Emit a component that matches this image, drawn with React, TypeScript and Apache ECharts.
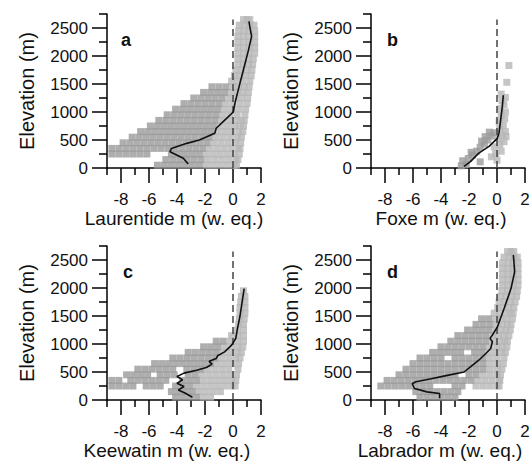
import React, { useEffect, useRef } from 'react';
import * as echarts from 'echarts';

type Rows = [number, number[]][];

// Tick values
const xMajorTicks = [-8, -6, -4, -2, 0, 2];
const xMinorTicks = [-9, -7, -5, -3, -1, 1];
const yMajorTicks = [0, 500, 1000, 1500, 2000, 2500];
const yMinorTicks = [250, 750, 1250, 1750, 2250, 2750];

const regionNames = ['Laurentide', 'Foxe', 'Keewatin', 'Labrador'];
const panelLetters = ['a', 'b', 'c', 'd'];

// ---- a: Laurentide (rows: elevation, mass balance values) ----
const laurentideDark: Rows = [
  [50, [-5.4, -4.9, -4.4, -3.9, -3.4, -2.9, -2.4]],
  [150, [-4.8, -4.3, -3.8, -3.3, -2.8, -2.3]],
  [250, [-8.65, -8.15, -7.65, -7.15, -6.65, -6.15, -4.4, -3.9, -3.4, -2.9, -2.4]],
  [350, [-8.65, -8.15, -7.65, -7.15, -6.65, -6.15, -5.65, -5.15, -4.65, -4.15, -3.65, -3.15, -2.65, -2.15]],
  [450, [-7.85, -7.35, -6.85, -6.35, -5.85, -5.35, -4.85, -4.35, -3.85, -3.35, -2.85, -2.35, -1.85]],
  [550, [-7.2, -6.7, -6.2, -5.7, -5.2, -4.7, -4.2, -3.7, -3.2, -2.7, -2.2, -1.7]],
  [650, [-6.6, -6.1, -5.6, -5.1, -4.6, -4.1, -3.6, -3.1, -2.6, -2.1, -1.6]],
  [750, [-5.9, -5.4, -4.9, -4.4, -3.9, -3.4, -2.9, -2.4, -1.9, -1.4]],
  [850, [-5.3, -4.8, -4.3, -3.8, -3.3, -2.8, -2.3, -1.8, -1.3]],
  [950, [-4.7, -4.2, -3.7, -3.2, -2.7, -2.2, -1.7, -1.2]],
  [1050, [-4.1, -3.6, -3.1, -2.6, -2.1, -1.6, -1.1]],
  [1150, [-3.5, -3.0, -2.5, -2.0, -1.5, -1.0]],
  [1250, [-2.8, -2.3, -1.8, -1.3, -0.8]],
  [1350, [-2.1, -1.6, -1.1, -0.6]],
  [1450, [-1.5, -1.0, -0.5]],
];
const laurentideLight: Rows = [
  [50, [-1.9, -1.4, -0.9, -0.4, 0.1, 0.25]],
  [150, [-1.8, -1.3, -0.8, -0.3, 0.2, 0.35]],
  [250, [-1.9, -1.4, -0.9, -0.4, 0.1, 0.45]],
  [350, [-1.65, -1.15, -0.65, -0.15, 0.35, 0.5]],
  [450, [-1.35, -0.85, -0.35, 0.15, 0.55]],
  [550, [-1.2, -0.7, -0.2, 0.3, 0.6]],
  [650, [-1.1, -0.6, -0.1, 0.4, 0.7]],
  [750, [-0.9, -0.4, 0.1, 0.5, 0.75]],
  [850, [-0.8, -0.3, 0.2, 0.6, 0.8]],
  [950, [-0.7, -0.2, 0.3, 0.85]],
  [1050, [-0.6, -0.1, 0.4, 0.9]],
  [1150, [-0.5, 0.0, 0.5, 1.0]],
  [1250, [-0.3, 0.2, 0.6, 1.05]],
  [1350, [-0.1, 0.3, 0.7, 1.1]],
  [1450, [0.0, 0.4, 0.8, 1.15]],
  [1550, [-0.1, 0.3, 0.7, 1.2]],
  [1650, [0.1, 0.5, 0.9, 1.3]],
  [1750, [0.2, 0.6, 1.0, 1.35]],
  [1850, [0.35, 0.75, 1.1, 1.4]],
  [1950, [0.35, 0.75, 1.1, 1.45]],
  [2050, [0.35, 0.75, 1.15, 1.55]],
  [2150, [0.35, 0.75, 1.15, 1.55]],
  [2250, [0.35, 0.75, 1.15, 1.55]],
  [2350, [0.35, 0.75, 1.15, 1.55]],
  [2450, [0.4, 0.8, 1.15, 1.55]],
  [2550, [0.45, 0.85, 1.2, 1.5]],
  [2650, [0.75, 1.0, 1.2]],
];
const laurentideMean: [number, number][] = [
  [-3.2, 70], [-3.55, 175], [-4.5, 290], [-4.4, 350], [-3.3, 440], [-2.4, 500], [-1.3, 620],
  [-1.2, 710], [-0.57, 860], [0.02, 1000], [0.14, 1160], [0.38, 1400], [0.74, 1750],
  [1.1, 2100], [1.33, 2350], [1.2, 2525], [1.14, 2620],
];

// ---- b: Foxe (individual points) ----
const foxeDark: [number, number][] = [
  [-2.55, 40], [-2.2, 60], [-2.45, 130], [-2.05, 170], [-1.75, 230], [-1.45, 300], [-1.85, 280],
  [-1.2, 370], [-0.9, 430], [-1.1, 480], [-0.65, 500], [-0.85, 560], [-0.4, 570], [-0.2, 630],
  [-1.2, 110], [-0.55, 640],
];
const foxeLight: [number, number][] = [
  [-0.4, 200], [-0.1, 260], [0.3, 300], [-0.2, 380], [0.2, 420], [0.5, 470], [0.1, 530],
  [0.4, 590], [0.6, 650], [0.2, 700], [0.45, 760], [0.15, 820], [0.55, 880], [0.3, 940],
  [0.6, 1000], [0.25, 1060], [0.5, 1130], [0.35, 1200], [0.6, 1260], [0.3, 1320],
  [0.7, 1530], [0.85, 1830], [0.65, 560], [0.0, 140],
];
const foxeMean: [number, number][] = [
  [-2.35, 30], [-1.9, 115], [-1.3, 265], [-0.57, 385], [0.02, 530], [0.14, 620],
  [0.26, 860], [0.38, 1100], [0.45, 1300],
];

// ---- c: Keewatin ----
const keewatinDark: Rows = [
  [50, [-4.1, -3.6, -3.1, -2.6]],
  [150, [-4.4, -3.9, -3.4, -2.9]],
  [250, [-8.65, -8.15, -7.65, -7.15, -6.2, -5.7, -5.2, -4.1, -3.6, -3.1]],
  [350, [-8.65, -8.15, -7.3, -6.8, -6.3, -5.8, -5.3, -4.8, -3.6, -3.1, -2.6]],
  [450, [-7.6, -7.1, -6.6, -6.1, -5.2, -4.7, -4.2, -3.2, -2.7]],
  [550, [-6.8, -6.3, -5.8, -5.3, -4.8, -4.3, -3.3, -2.8, -2.3]],
  [650, [-5.6, -5.1, -4.6, -4.1, -3.6, -3.1, -2.6, -2.1, -1.6]],
  [750, [-4.3, -3.8, -3.3, -2.8, -2.3, -1.8, -1.3]],
  [850, [-3.2, -2.7, -2.2, -1.7, -1.2]],
  [950, [-2.1, -1.6, -1.1]],
  [1050, [-1.2, -0.7]],
];
const keewatinLight: Rows = [
  [50, [-2.1, -1.6]],
  [150, [-2.4, -1.9, -1.4, -0.9]],
  [250, [-2.6, -2.1, -1.6, -1.1, -0.6, -0.1, 0.15]],
  [350, [-2.1, -1.6, -1.1, -0.6, -0.1, 0.2]],
  [450, [-2.2, -1.7, -1.2, -0.7, -0.2, 0.25]],
  [550, [-1.8, -1.3, -0.8, -0.3, 0.35]],
  [650, [-1.1, -0.6, -0.1, 0.4]],
  [750, [-0.8, -0.3, 0.2, 0.5]],
  [850, [-0.7, -0.2, 0.3, 0.6]],
  [950, [-0.6, -0.1, 0.35, 0.7]],
  [1050, [-0.2, 0.3, 0.75]],
  [1150, [-0.1, 0.35, 0.75]],
  [1250, [0.3, 0.75]],
  [1350, [0.4, 0.75]],
  [1450, [0.45, 0.8]],
  [1550, [0.5, 0.85]],
  [1650, [0.5, 0.85]],
  [1750, [0.55, 0.85]],
  [1850, [0.6, 0.85]],
  [1950, [0.75]],
];
const keewatinMean: [number, number][] = [
  [-2.9, 50], [-3.4, 120], [-3.9, 180], [-3.5, 240], [-4.0, 300], [-3.6, 360], [-4.0, 420],
  [-3.5, 480], [-2.6, 530], [-1.9, 580], [-1.5, 640], [-1.7, 690], [-1.2, 740], [-1.1, 790],
  [-0.6, 860], [-0.1, 980], [0.2, 1100], [0.3, 1250], [0.5, 1500], [0.65, 1750], [0.8, 1990],
];

// ---- d: Labrador ----
const labradorDark: Rows = [
  [50, [-5.5, -5.0, -4.5, -4.0, -3.5, -3.0]],
  [150, [-5.8, -5.3, -4.8, -4.3, -3.8, -3.3, -2.8]],
  [250, [-8.3, -7.8, -7.3, -6.8, -6.3, -5.8, -5.3, -4.8, -3.0, -2.5]],
  [350, [-7.85, -7.35, -6.85, -6.35, -5.85, -5.35, -4.85, -4.35, -3.85, -3.35, -2.85, -2.35, -1.85]],
  [450, [-7.0, -6.5, -6.0, -5.5, -5.0, -4.5, -4.0, -3.5, -3.0, -2.0, -1.5]],
  [550, [-6.5, -6.0, -5.5, -5.0, -4.5, -4.0, -3.5, -3.0, -2.5, -2.0, -1.5, -1.0]],
  [650, [-6.0, -5.5, -5.0, -4.5, -4.0, -3.5, -3.0, -2.5, -2.0, -1.5, -1.0]],
  [750, [-5.5, -5.0, -4.5, -4.0, -3.0, -2.5, -2.0, -1.5, -1.0]],
  [850, [-4.6, -4.1, -3.6, -3.1, -2.6, -1.6, -1.1]],
  [950, [-4.0, -3.5, -3.0, -2.5, -2.0, -1.5, -1.0]],
  [1050, [-3.3, -2.8, -2.3, -1.8, -1.3, -0.8]],
  [1150, [-2.8, -2.3, -1.8, -1.3, -0.8]],
  [1250, [-2.1, -1.6, -1.1, -0.6]],
  [1350, [-1.5, -1.0, -0.5]],
  [1450, [-1.1, -0.6]],
];
const labradorLight: Rows = [
  [250, [-1.5, -1.0, -0.5, 0.0, 0.15]],
  [350, [-1.35, -0.85, -0.35, 0.15, 0.2]],
  [450, [-1.0, -0.5, 0.0, 0.25]],
  [550, [-0.5, 0.0, 0.35]],
  [650, [-0.5, 0.0, 0.45]],
  [750, [-0.5, 0.0, 0.5]],
  [850, [-0.6, -0.1, 0.35, 0.6]],
  [950, [-0.5, 0.0, 0.4, 0.7]],
  [1050, [-0.3, 0.2, 0.55, 0.75]],
  [1150, [-0.3, 0.1, 0.5, 0.85]],
  [1250, [-0.1, 0.3, 0.65, 0.95]],
  [1350, [0.0, 0.4, 0.75, 1.0]],
  [1450, [-0.1, 0.3, 0.7, 1.1]],
  [1550, [-0.2, 0.2, 0.6, 0.95, 1.15]],
  [1650, [0.05, 0.45, 0.85, 1.2]],
  [1750, [0.15, 0.55, 0.95, 1.3]],
  [1850, [0.25, 0.65, 1.05, 1.4]],
  [1950, [0.35, 0.75, 1.1, 1.45]],
  [2050, [0.4, 0.8, 1.15, 1.5]],
  [2150, [0.4, 0.8, 1.15, 1.5]],
  [2250, [0.4, 0.8, 1.15, 1.5]],
  [2350, [0.4, 0.8, 1.15, 1.5]],
  [2450, [0.4, 0.8, 1.15, 1.5]],
  [2550, [0.5, 0.9, 1.2, 1.45]],
  [2650, [0.75, 1.0, 1.2]],
];
const labradorMean: [number, number][] = [
  [-4.1, 30], [-4.1, 115], [-5.0, 145], [-5.9, 205], [-6.05, 290], [-5.8, 325], [-4.7, 380],
  [-3.55, 440], [-2.35, 500], [-1.9, 590], [-1.3, 710], [-0.8, 830], [-0.45, 920],
  [-0.33, 1040], [-0.5, 1100], [-0.33, 1160], [0.02, 1300], [0.5, 1630], [1.0, 1990],
  [1.26, 2290], [1.17, 2590],
];

const flat = (rows: Rows): [number, number][] =>
  rows.flatMap(([y, xs]) => xs.map((x) => [x, y] as [number, number]));

const FONT = '"Liberation Sans", Arial, Helvetica, sans-serif';
const DARK = '#9a9a9a';
const LIGHT = '#b6b6b6';

export default function App() {
  const ref = useRef<HTMLDivElement>(null);

  useEffect(() => {
    if (!ref.current) return;
    const chart = echarts.init(ref.current, undefined, { renderer: 'svg' });

    const panels = [
      { dark: flat(laurentideDark), light: flat(laurentideLight), mean: laurentideMean, left: 107, top: 14, shift: 10, lx: 121, ly: 49 },
      { dark: foxeDark, light: foxeLight, mean: foxeMean, left: 371, top: 14, shift: 7, lx: 387, ly: 49 },
      { dark: flat(keewatinDark), light: flat(keewatinLight), mean: keewatinMean, left: 107, top: 246, shift: 17, lx: 123, ly: 281 },
      { dark: flat(labradorDark), light: flat(labradorLight), mean: labradorMean, left: 371, top: 246, shift: 8, lx: 387, ly: 281 },
    ];

    const axisLineStyle = { color: '#000', width: 1.5 };
    const plain = (v: number) => String(v);
    const grids: any[] = [];
    const xAxes: any[] = [];
    const yAxes: any[] = [];
    const series: any[] = [];

    panels.forEach((p) => {
      grids.push({ left: p.left, top: p.top, width: 154, height: 154, outerBoundsMode: 'none', containLabel: false });
    });
    panels.forEach((p) => {
      grids.push({ left: p.left, top: p.top, width: 154, height: 154, outerBoundsMode: 'none', containLabel: false });
    });

    panels.forEach((p, i) => {
      xAxes.push({
        type: 'value', gridIndex: i, min: -9, max: 2,
        name: `${regionNames[i]} m (w. eq.)`, nameLocation: 'middle', nameGap: 40,
        nameTextStyle: { fontSize: 19, color: '#111', fontFamily: FONT, padding: [0, p.shift * 2, 0, 0] },
        axisLine: { lineStyle: axisLineStyle },
        axisTick: { show: true, length: 15, customValues: xMajorTicks, lineStyle: axisLineStyle },
        axisLabel: { customValues: xMajorTicks, formatter: plain, margin: 23, fontSize: 17, color: '#111', fontFamily: FONT },
        splitLine: { show: false },
      });
      yAxes.push({
        type: 'value', gridIndex: i, min: 0, max: 2750,
        name: 'Elevation (m)', nameLocation: 'middle', nameGap: 70, nameRotate: 90,
        nameTextStyle: { fontSize: 20, color: '#111', fontFamily: FONT },
        axisLine: { onZero: false, lineStyle: axisLineStyle },
        axisTick: { show: true, length: 15, customValues: yMajorTicks, lineStyle: axisLineStyle },
        axisLabel: { customValues: yMajorTicks, formatter: plain, margin: 19, fontSize: 17, color: '#111', fontFamily: FONT },
        splitLine: { show: false },
      });
    });
    panels.forEach((p, i) => {
      xAxes.push({
        type: 'value', gridIndex: 4 + i, min: -9, max: 2,
        axisLine: { show: false },
        axisTick: { show: true, length: 7, customValues: xMinorTicks, lineStyle: axisLineStyle },
        axisLabel: { show: false },
        splitLine: { show: false },
      });
      yAxes.push({
        type: 'value', gridIndex: 4 + i, min: 0, max: 2750,
        axisLine: { show: false, onZero: false },
        axisTick: { show: true, length: 8, customValues: yMinorTicks, lineStyle: axisLineStyle },
        axisLabel: { show: false },
        splitLine: { show: false },
      });
    });

    panels.forEach((p, i) => {
      series.push({
        type: 'scatter', xAxisIndex: i, yAxisIndex: i, data: p.light,
        symbol: 'rect', symbolSize: 7, itemStyle: { color: LIGHT }, silent: true, z: 2,
      });
      series.push({
        type: 'scatter', xAxisIndex: i, yAxisIndex: i, data: p.dark,
        symbol: 'rect', symbolSize: 7, itemStyle: { color: DARK }, silent: true, z: 2,
      });
      series.push({
        type: 'line', xAxisIndex: i, yAxisIndex: i, data: p.mean,
        symbol: 'none', showSymbol: false, silent: true, z: 4,
        lineStyle: { color: '#111', width: 1.6 },
        markLine: {
          silent: true, symbol: ['none', 'none'], label: { show: false }, z: 3,
          lineStyle: { color: '#444', type: [7, 4], width: 1.5 },
          data: [[{ coord: [0, 0] }, { coord: [0, 2650] }]],
        },
      });
    });

    const graphic = panels.map((p, i) => ({
      type: 'text', x: p.lx, y: p.ly,
      style: { text: panelLetters[i], fontSize: 18, fontWeight: 'bold', fontFamily: FONT, fill: '#111', verticalAlign: 'bottom', align: 'left' },
      silent: true,
    }));

    chart.setOption({
      animation: false,
      backgroundColor: '#fff',
      textStyle: { fontFamily: FONT },
      grid: grids,
      xAxis: xAxes,
      yAxis: yAxes,
      series,
      graphic,
    });

    return () => chart.dispose();
  }, []);

  return <div ref={ref} style={{ position: 'fixed', left: 0, top: 0, width: 529, height: 464, background: '#fff' }} />;
}
